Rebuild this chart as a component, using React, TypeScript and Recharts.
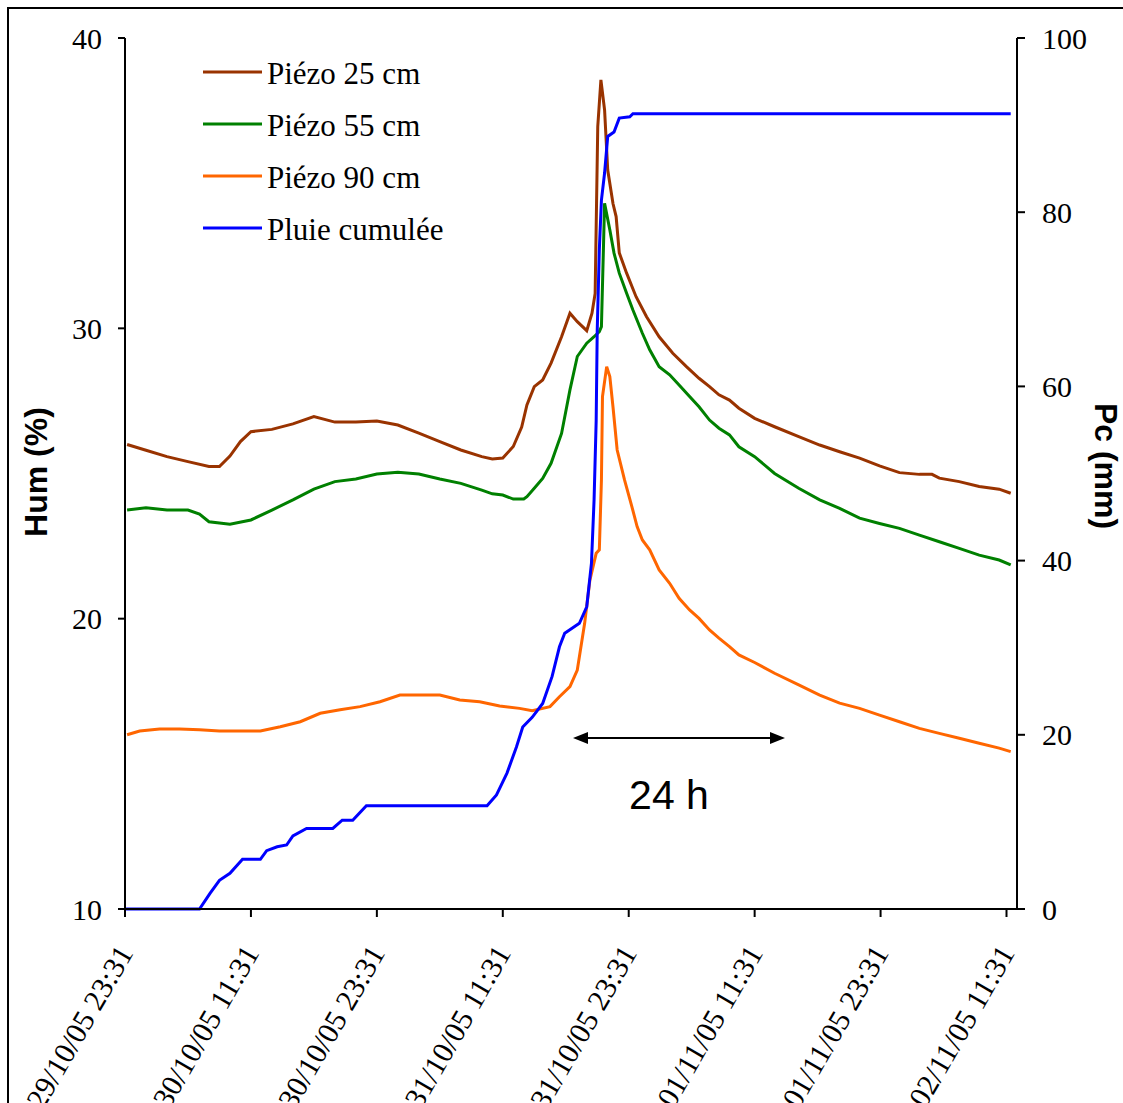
import { LineChart, Line, XAxis, YAxis } from 'recharts';

// hours since 29/10/05 23:31
const hours25 = [0.2, 2, 4, 6, 8, 9, 10, 11, 12, 14, 16, 18, 20, 22, 24, 26, 28, 30, 32, 34, 35, 36, 37, 37.8, 38.3, 39, 39.8, 40.6, 41.6, 42.4, 43.1, 44, 44.5, 44.8, 45.05, 45.35, 45.7, 46, 46.5, 46.8, 47.1, 47.8, 48.7, 49.7, 50.9, 52.2, 53.5, 54.7, 55.7, 56.6, 57.6, 58.5, 60, 61.9, 64.2, 66.2, 68.1, 70, 71.9, 73.8, 75.7, 76.9, 77.6, 79.5, 81.4, 83.3, 84.4];
const piezo25 = [26.0, 25.8, 25.58, 25.41, 25.24, 25.24, 25.6, 26.1, 26.44, 26.52, 26.71, 26.96, 26.77, 26.77, 26.81, 26.67, 26.39, 26.1, 25.81, 25.58, 25.5, 25.53, 25.93, 26.6, 27.36, 27.99, 28.22, 28.8, 29.71, 30.52, 30.23, 29.92, 30.52, 31.2, 36.95, 38.56, 37.52, 35.45, 34.3, 33.85, 32.6, 31.9, 31.09, 30.4, 29.71, 29.14, 28.68, 28.28, 27.99, 27.71, 27.53, 27.25, 26.9, 26.61, 26.27, 25.98, 25.75, 25.53, 25.26, 25.03, 24.97, 24.97, 24.84, 24.72, 24.55, 24.46, 24.32];

const hours55 = [0.2, 2, 4, 6, 7.1, 8, 10, 12, 14, 16, 18, 20, 22, 24, 26, 28, 30, 32, 34, 35, 36, 37, 38, 38.3, 39, 39.8, 40.6, 41.6, 42.4, 43.1, 44, 44.7, 45.2, 45.4, 45.7, 46.2, 46.6, 47.1, 47.8, 48.4, 49.3, 50, 50.9, 51.9, 52.8, 53.8, 54.7, 55.7, 56.6, 57.6, 58.5, 60, 61.9, 64.2, 66.2, 68.1, 70, 71.9, 73.8, 75.7, 77.6, 79.5, 81.4, 83.3, 84.4];
const piezo55 = [23.74, 23.82, 23.74, 23.74, 23.6, 23.34, 23.25, 23.4, 23.74, 24.09, 24.46, 24.72, 24.81, 24.98, 25.04, 24.98, 24.81, 24.66, 24.43, 24.3, 24.26, 24.12, 24.12, 24.2, 24.49, 24.83, 25.35, 26.38, 27.88, 29.03, 29.49, 29.71, 29.89, 30.06, 34.31, 33.39, 32.59, 31.9, 31.21, 30.63, 29.83, 29.26, 28.68, 28.4, 28.05, 27.65, 27.3, 26.84, 26.56, 26.33, 25.92, 25.58, 25.0, 24.49, 24.09, 23.8, 23.46, 23.28, 23.11, 22.88, 22.65, 22.42, 22.19, 22.02, 21.85];

const hours90 = [0.2, 1.4, 3.3, 5.2, 7.1, 9, 11, 12.9, 14.8, 16.7, 18.6, 20.5, 22.4, 24.3, 26.2, 28.1, 30, 31.9, 33.8, 35.7, 37.6, 38.8, 40.5, 41.4, 42.4, 43.1, 43.8, 44.3, 44.9, 45.2, 45.4, 45.5, 45.9, 46.2, 46.5, 46.9, 47.6, 48.3, 48.8, 49.3, 50, 50.9, 51.9, 52.8, 53.8, 54.7, 55.7, 56.6, 57.6, 58.5, 60, 61.9, 64.2, 66.2, 68.1, 70, 71.9, 73.8, 75.7, 77.6, 79.5, 81.4, 83.3, 84.4];
const piezo90 = [16.0, 16.13, 16.2, 16.2, 16.17, 16.13, 16.13, 16.13, 16.28, 16.45, 16.74, 16.86, 16.97, 17.14, 17.37, 17.37, 17.37, 17.2, 17.14, 16.99, 16.91, 16.83, 16.97, 17.31, 17.66, 18.23, 19.84, 21.33, 22.25, 22.37, 24.78, 27.65, 28.68, 28.34, 27.3, 25.81, 24.78, 23.86, 23.17, 22.71, 22.37, 21.68, 21.22, 20.7, 20.3, 20.01, 19.61, 19.33, 19.04, 18.75, 18.49, 18.12, 17.72, 17.37, 17.09, 16.91, 16.68, 16.45, 16.22, 16.05, 15.88, 15.71, 15.54, 15.42];

const hoursRain = [0, 7.1, 8.1, 9, 10, 11.2, 12.9, 13.5, 14.5, 15.4, 16, 17.3, 19.8, 20.7, 21.7, 23, 34.5, 35.4, 36.4, 37.3, 37.9, 38.8, 39.8, 40.7, 41.4, 41.9, 43.3, 44, 44.45, 44.7, 44.9, 45.0, 45.2, 45.4, 45.7, 46, 46.6, 47.1, 48.1, 48.4, 84.4];
const rainCum = [0, 0, 1.8, 3.3, 4.1, 5.7, 5.7, 6.7, 7.15, 7.35, 8.4, 9.25, 9.25, 10.2, 10.2, 11.86, 11.86, 13.1, 15.6, 18.6, 20.9, 22.0, 23.6, 26.7, 30.1, 31.65, 32.8, 34.7, 39.7, 47.0, 56.1, 66.5, 75.7, 81.4, 84.5, 88.7, 89.2, 90.8, 90.96, 91.3, 91.3];

const tickHours = [0, 12, 24, 36, 48, 60, 72, 84];
const tickLabels = ['29/10/05 23:31', '30/10/05 11:31', '30/10/05 23:31', '31/10/05 11:31', '31/10/05 23:31', '01/11/05 11:31', '01/11/05 23:31', '02/11/05 11:31'];
const humTicks = [10, 20, 30, 40];
const pcTicks = [0, 20, 40, 60, 80, 100];

const toPoints = (hours: number[], values: number[]) => hours.map((h, i) => ({ h, v: values[i] }));

const series = [
  { name: 'Piézo 25 cm', color: '#993300', axis: 'hum', data: toPoints(hours25, piezo25) },
  { name: 'Piézo 55 cm', color: '#008000', axis: 'hum', data: toPoints(hours55, piezo55) },
  { name: 'Piézo 90 cm', color: '#FF6600', axis: 'hum', data: toPoints(hours90, piezo90) },
  { name: 'Pluie cumulée', color: '#0000FF', axis: 'pc', data: toPoints(hoursRain, rainCum) },
];

const serif = "'Liberation Serif', 'Times New Roman', serif";
const sans = "'Liberation Sans', Arial, sans-serif";

function DateTick({ x, y, payload }: any) {
  const label = tickLabels[tickHours.indexOf(payload.value)];
  return (
    <g transform={`translate(${x + 9},${y + 36})`}>
      <text textAnchor="end" transform="rotate(-60)" fontFamily={serif} fontSize={30} fill="#000">
        {label}
      </text>
    </g>
  );
}

const axisTick = { fontFamily: serif, fontSize: 30, fill: '#000' };

export default function App() {
  return (
    <div style={{ position: 'absolute', left: 0, top: 0, width: 1123, height: 1103, overflow: 'hidden', background: '#fff' }}>
      <div style={{ position: 'absolute', left: 7, top: 7, width: 1300, height: 1300, border: '2px solid #000' }} />
      <div style={{ position: 'absolute', left: 0, top: 0 }}>
        <LineChart width={1123} height={1103} margin={{ top: 38, right: 0, bottom: 0, left: 0 }}>
          <XAxis
            dataKey="h"
            type="number"
            domain={[0, 85]}
            ticks={tickHours}
            interval={0}
            height={194}
            tickSize={8}
            tickMargin={0}
            tick={<DateTick />}
            axisLine={{ stroke: '#000', strokeWidth: 2 }}
            tickLine={{ stroke: '#000', strokeWidth: 2 }}
            allowDataOverflow
          />
          <YAxis
            yAxisId="hum"
            orientation="left"
            domain={[10, 40]}
            ticks={humTicks}
            width={125}
            tickSize={7}
            tickMargin={16}
            tick={axisTick}
            axisLine={{ stroke: '#000', strokeWidth: 2 }}
            tickLine={{ stroke: '#000', strokeWidth: 2 }}
          />
          <YAxis
            yAxisId="pc"
            orientation="right"
            domain={[0, 100]}
            ticks={pcTicks}
            width={106}
            tickSize={8}
            tickMargin={17}
            tick={axisTick}
            axisLine={{ stroke: '#000', strokeWidth: 2 }}
            tickLine={{ stroke: '#000', strokeWidth: 2 }}
          />
          {series.map((s) => (
            <Line
              key={s.name}
              data={s.data}
              dataKey="v"
              name={s.name}
              yAxisId={s.axis}
              type="linear"
              stroke={s.color}
              strokeWidth={3}
              dot={false}
              isAnimationActive={false}
            />
          ))}
        </LineChart>
      </div>
      <svg width={1123} height={1103} style={{ position: 'absolute', left: 0, top: 0, pointerEvents: 'none' }}>
        <text transform="translate(47,472) rotate(-90)" textAnchor="middle" fontFamily={sans} fontWeight="bold" fontSize={32} fill="#000">
          Hum (%)
        </text>
        <text transform="translate(1095,466) rotate(90)" textAnchor="middle" fontFamily={sans} fontWeight="bold" fontSize={32} fill="#000">
          Pc (mm)
        </text>
        {series.map((s, i) => (
          <g key={s.name}>
            <line x1={203} x2={262} y1={72 + i * 52} y2={72 + i * 52} stroke={s.color} strokeWidth={3} />
            <text x={267} y={84 + i * 52} fontFamily={serif} fontSize={31} fill="#000">
              {s.name}
            </text>
          </g>
        ))}
        <line x1={586} x2={772} y1={738} y2={738} stroke="#000" strokeWidth={2} />
        <polygon points="573,738 588,732 588,744" fill="#000" />
        <polygon points="785,738 770,732 770,744" fill="#000" />
        <text x={669} y={809} textAnchor="middle" fontFamily={sans} fontSize={41} fill="#000">
          24 h
        </text>
      </svg>
    </div>
  );
}
